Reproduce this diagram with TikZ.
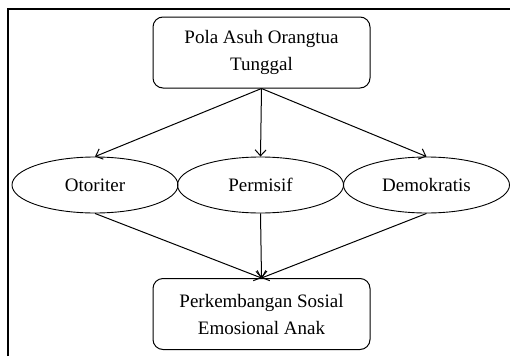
\documentclass[tikz,border=0pt]{standalone}
\usepackage{fontspec}
\setmainfont{Liberation Serif}
\usetikzlibrary{shapes,arrows.meta}

\begin{document}
\begin{tikzpicture}[x=1pt,y=-1pt,
   kotak/.style={draw, rounded corners=10pt, line width=1pt, minimum width=217pt, minimum height=71pt, align=center, font=\fontsize{19}{27}\selectfont},
   gaya/.style={draw, ellipse, line width=0.9pt, minimum width=166pt, minimum height=56pt, inner sep=0pt, font=\fontsize{19}{27}\selectfont},
   panah/.style={line width=1pt, -{Straight Barb[length=6pt,width=11pt]}}]
\useasboundingbox (0,0) rectangle (510,356);
\draw[line width=1.5pt] (8,356) -- (8,9) -- (510,9);
\node[kotak] (pola) at (261.5,52.5) {Pola Asuh Orangtua\\Tunggal};
\node[gaya] (otoriter) at (95,185) {Otoriter};
\node[gaya] (permisif) at (260.5,185) {Permisif};
\node[gaya] (demokratis) at (426.5,185) {Demokratis};
\node[kotak] (sosial) at (261.5,314) {Perkembangan Sosial\\Emosional Anak};
\draw[panah] (pola.south) -- (otoriter.north);
\draw[panah] (pola.south) -- (permisif.north);
\draw[panah] (pola.south) -- (demokratis.north);
\draw[panah] (otoriter.south) -- (sosial.north);
\draw[panah] (permisif.south) -- (sosial.north);
\draw[panah] (demokratis.south) -- (sosial.north);
\end{tikzpicture}
\end{document}
